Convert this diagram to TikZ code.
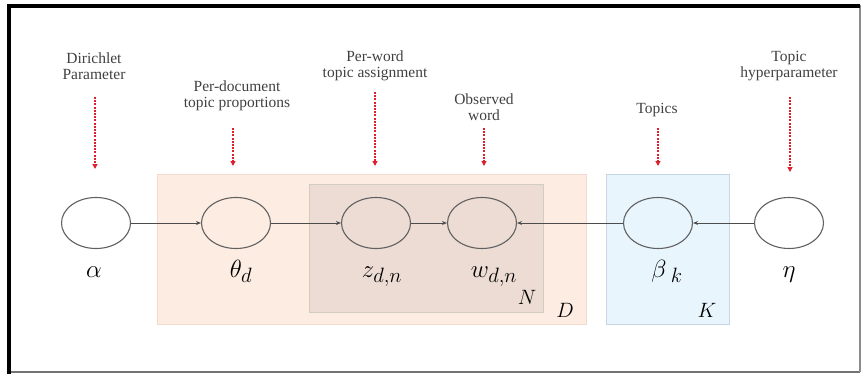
\documentclass[tikz,border=0pt]{standalone}
\usepackage{fontspec}
\setmainfont{Liberation Serif}
\usetikzlibrary{arrows.meta}
\usetikzlibrary{shapes.geometric}
\definecolor{plated}{RGB}{253,236,226}
\definecolor{platedline}{RGB}{244,218,204}
\definecolor{platen}{RGB}{236,220,212}
\definecolor{platenline}{RGB}{210,206,190}
\definecolor{platek}{RGB}{233,245,253}
\definecolor{platekline}{RGB}{200,214,228}
\definecolor{cuered}{RGB}{222,32,44}

\begin{document}
\begin{tikzpicture}[x=1pt,y=-1pt,
  var/.style={ellipse,draw=black!62,line width=1.1pt,minimum width=69pt,minimum height=51pt,inner sep=0pt},
  sym/.style={anchor=base,inner sep=0pt,font=\fontsize{24.88}{30}\selectfont},
  platesym/.style={inner sep=0pt,font=\fontsize{20.74}{26}\selectfont},
  note/.style={align=center,inner sep=0pt,text=black!75,font=\fontsize{15.5}{16}\selectfont},
  cue/.style={cuered,dash pattern=on 2pt off 1.2pt,line width=1.6pt,-{Triangle[length=5pt,width=5pt]}},
  link/.style={black!70,line width=1pt,-{Stealth[length=5pt,width=4pt]}}]
\useasboundingbox (0,0) rectangle (862,375);
\draw[black!55, line width=2pt] (9,372) -- (860,372);
\draw[black!45, line width=1.5pt] (860,5) -- (860,372);
\draw[black, line width=4pt] (9,374) -- (9,6) -- (860,6);

\draw[platedline, fill=plated, line width=1pt] (157,174) rectangle (586,324);
\draw[platenline, fill=platen, line width=1pt] (309,184) rectangle (543,312);
\draw[platekline, fill=platek, line width=1pt] (606,174) rectangle (729,324);

\node[var, fill=white] (alpha) at (96,223) {};
\node[var] (theta) at (236,223) {};
\node[var] (z) at (376,223) {};
\node[var] (w) at (482,223) {};
\node[var] (beta) at (658,223) {};
\node[var, fill=white] (eta) at (789,223) {};

\draw[link] (alpha) -- (theta);
\draw[link] (theta) -- (z);
\draw[link] (z) -- (w);
\draw[link] (beta) -- (w);
\draw[link] (eta) -- (beta);

\node[sym] (lalpha) at (94,277) {$\alpha$};
\node[sym] (ltheta) at (241,277) {$\theta_d$};
\node[sym] (lz) at (382,277) {$z_{d,n}$};
\node[sym] (lw) at (494,277) {$w_{d,n}$};
\node[sym] (lbeta) at (667,277) {$\beta_{\;k}$};
\node[sym] (leta) at (789,277) {$\eta$};
\node[platesym] (pn) at (527,297) {$N$};
\node[platesym] (pd) at (565,310) {$D$};
\node[platesym] (pk) at (707,310) {$K$};

\node[note] (ndir) at (94,66) {Dirichlet\\Parameter};
\node[note] (ndoc) at (237,96) {Per-document\\topic proportions};
\node[note] (nword) at (375,66) {Per-word\\topic assignment};
\node[note] (nobs) at (484,107) {Observed\\word};
\node[note] (ntop) at (657,110) {Topics};
\node[note] (nhyp) at (789,66) {Topic\\hyperparameter};

\foreach \n/\x/\a/\b in {dir/95/97/169, doc/233/128/166, word/375/92/166, obs/484/128/166, top/658/128/166, hyp/790/97/172}
{
\coordinate (t\n) at (\x,\a);
\coordinate (h\n) at (\x,\b);
\draw[cue] (t\n) -- (h\n);
}
\end{tikzpicture}
\end{document}
